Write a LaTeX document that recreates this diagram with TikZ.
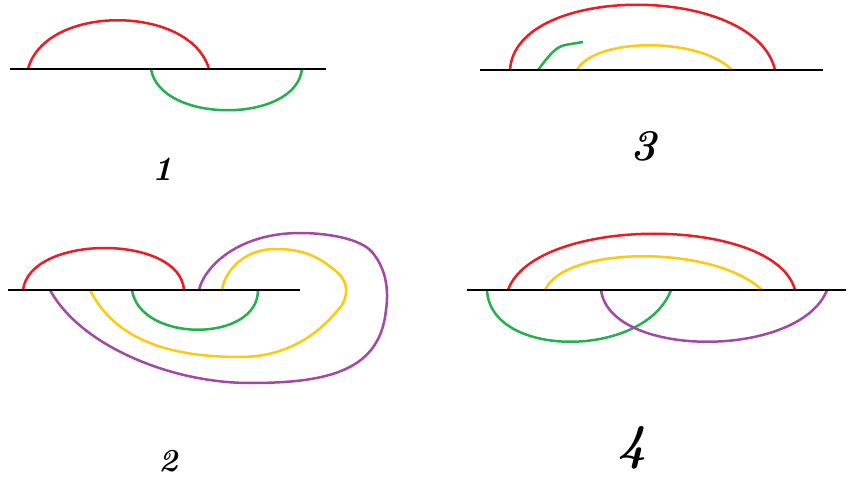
\documentclass[tikz,border=0pt]{standalone}
\usepackage{tikz}
\definecolor{cred}{HTML}{ED1C24}
\definecolor{cgreen}{HTML}{22B14C}
\definecolor{cyellow}{HTML}{FFC90E}
\definecolor{cpurple}{HTML}{A349A4}
\tikzset{
  baseline/.style={line width=2.8pt,black},
  strand/.style={line width=2.5pt},
  lab/.style={font=\bfseries\itshape}
}
\begin{document}
\begin{tikzpicture}[x=1pt,y=-1pt]
\useasboundingbox[fill=white] (0,0) rectangle (860,481);
% ---------- panel 1
\coordinate (l1a) at (10,69); \coordinate (l1b) at (326,69);
\draw[strand,cred] (28,69) .. controls (45,4) and (190,4) .. (209,69);
\draw[strand,cgreen] (151,69) .. controls (160,124) and (296,124) .. (302,69);
\draw[baseline] (l1a) -- (l1b);
\node[lab,font=\fontsize{34}{34}\selectfont\bfseries\itshape] (n1) at (163,169) {1};
% ---------- panel 3
\coordinate (l3a) at (480,70); \coordinate (l3b) at (823,70);
\draw[strand,cred] (510,70) .. controls (515,-17) and (755,-17) .. (775,70);
\draw[strand,cgreen] (538,70) .. controls (550,54) and (556,47) .. (565,45) -- (583,42);
\draw[strand,cyellow] (577,70) .. controls (595,37) and (700,37) .. (732,70);
\draw[baseline] (l3a) -- (l3b);
\node[lab,font=\fontsize{44}{44}\selectfont\bfseries\itshape] (n3) at (643,146) {3};
% ---------- panel 2
\coordinate (l2a) at (8,290); \coordinate (l2b) at (300,290);
\draw[strand,cred] (23,290) .. controls (30,234) and (180,234) .. (184,290);
\draw[strand,cgreen] (132,290) .. controls (140,343) and (258,343) .. (258,290);
\draw[strand,cyellow] (90,290) .. controls (115,340) and (170,357) .. (240,357)
  .. controls (300,357) and (330,320) .. (342,305)
  .. controls (348,295) and (348,282) .. (338,273)
  .. controls (315,252) and (295,249) .. (275,249)
  .. controls (245,249) and (225,270) .. (222,290);
\draw[strand,cpurple] (50,290) .. controls (80,345) and (170,383) .. (250,383)
  .. controls (330,383) and (380,370) .. (386,310)
  .. controls (390,282) and (382,264) .. (372,252)
  .. controls (360,238) and (325,233) .. (300,233)
  .. controls (240,233) and (205,265) .. (199,290);
\draw[baseline] (l2a) -- (l2b);
\node[lab,font=\fontsize{32}{32}\selectfont\bfseries\itshape] (n2) at (168,461) {2};
\draw[baseline] (l2a) -- (l2b);
% ---------- panel 4
\coordinate (l4a) at (467,290); \coordinate (l4b) at (846,290);
\draw[strand,cred] (508,290) .. controls (535,215) and (775,215) .. (795,290);
\draw[strand,cyellow] (545,290) .. controls (565,245) and (715,245) .. (762,290);
\draw[strand,cgreen] (487,290) .. controls (490,359) and (645,359) .. (671,290);
\draw[strand,cpurple] (601,290) .. controls (610,359) and (800,359) .. (827,290);
\draw[baseline] (l4a) -- (l4b);
\node[lab,font=\fontsize{50}{50}\selectfont\bfseries\itshape] (n4) at (632,448) {4};
\end{tikzpicture}
\end{document}
